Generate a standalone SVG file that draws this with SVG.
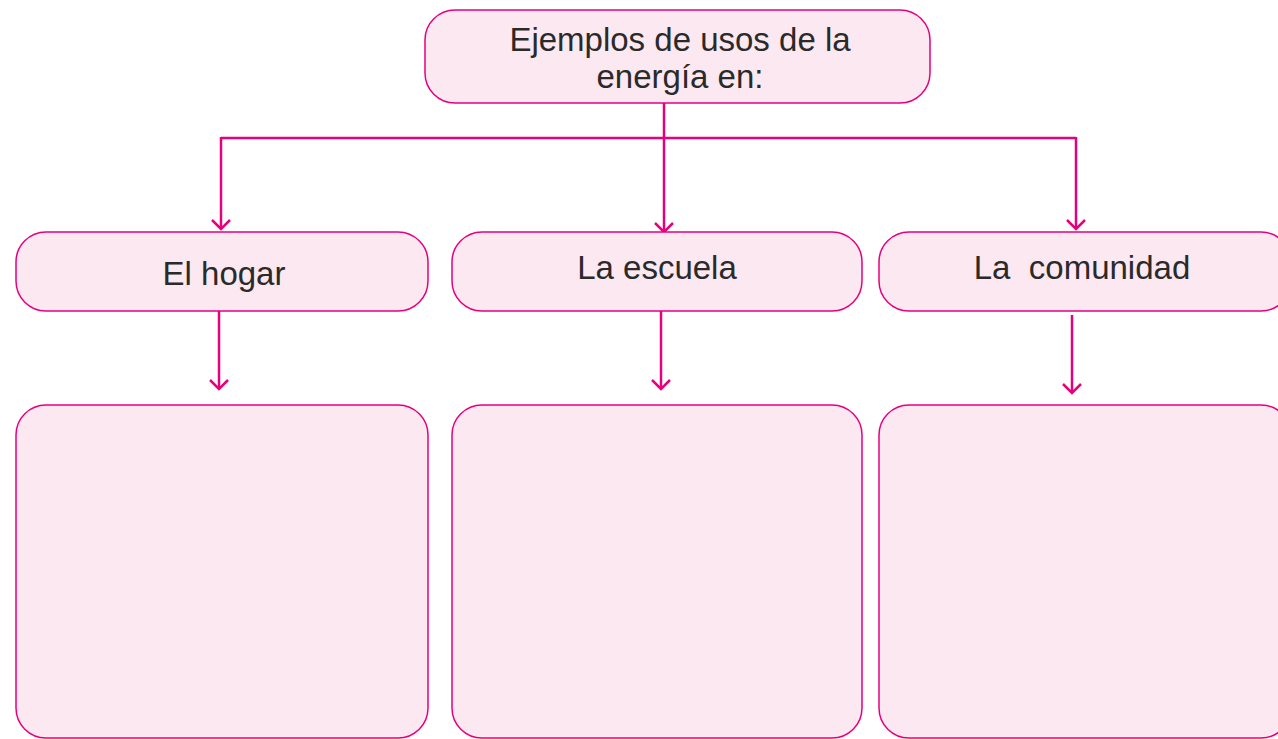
<svg xmlns="http://www.w3.org/2000/svg" width="1278" height="739" viewBox="0 0 1278 739">
<defs>
<style>
.box{fill:#fce8f1;stroke:#e6007e;stroke-width:1.5}
.lbl{font-family:"Liberation Sans",Arial,sans-serif;font-size:33px;fill:#2a2a2a;text-anchor:middle}
.ln{fill:none;stroke:#e6007e;stroke-width:2.5}
</style>
<marker id="ah" viewBox="0 0 20 20" refX="17" refY="10" markerWidth="20" markerHeight="20" markerUnits="userSpaceOnUse" orient="auto">
<path d="M8,1 L17,10 L8,19" fill="none" stroke="#e6007e" stroke-width="2.5"/>
</marker>
</defs>
<rect width="1278" height="739" fill="#fff"/>
<g id="connectors">
<path class="ln" d="M664,103 V232" marker-end="url(#ah)"/>
<path class="ln" d="M221,138 H1076"/>
<path class="ln" d="M221,137 V229" marker-end="url(#ah)"/>
<path class="ln" d="M1076,137 V229" marker-end="url(#ah)"/>
<path class="ln" d="M219,311 V389" marker-end="url(#ah)"/>
<path class="ln" d="M661,311 V389" marker-end="url(#ah)"/>
<path class="ln" d="M1072,315 V393" marker-end="url(#ah)"/>
</g>
<g id="root">
<rect class="box" x="425" y="10" width="505" height="93" rx="30"/>
<text class="lbl" x="680" y="51">Ejemplos de usos de la</text>
<text class="lbl" x="680" y="88">energía en:</text>
</g>
<g id="hogar">
<rect class="box" x="16" y="232" width="412" height="79" rx="30"/>
<text class="lbl" x="224" y="285">El hogar</text>
</g>
<g id="escuela">
<rect class="box" x="452" y="232" width="410" height="79" rx="30"/>
<text class="lbl" x="657" y="279">La escuela</text>
</g>
<g id="comunidad">
<rect class="box" x="879" y="232" width="412" height="79" rx="30"/>
<text class="lbl" x="1082" y="279" xml:space="preserve">La  comunidad</text>
</g>
<g id="hogar-ejemplos">
<rect class="box" x="16" y="405" width="412" height="333" rx="30"/>
</g>
<g id="escuela-ejemplos">
<rect class="box" x="452" y="405" width="410" height="333" rx="30"/>
</g>
<g id="comunidad-ejemplos">
<rect class="box" x="879" y="405" width="412" height="333" rx="30"/>
</g>
</svg>
